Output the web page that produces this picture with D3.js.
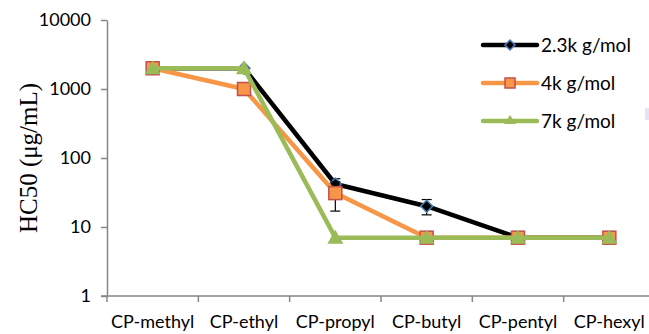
<!DOCTYPE html>
<html>
<head>
<meta charset="utf-8">
<script src="https://cdn.jsdelivr.net/npm/d3@7"></script>
<style>
  body { margin: 0; background: #fff; }
</style>
</head>
<body>
<script>
// chart data
const categories = ["CP-methyl", "CP-ethyl", "CP-propyl", "CP-butyl", "CP-pentyl", "CP-hexyl"];
const seriesNames = ["2.3k g/mol", "4k g/mol", "7k g/mol"];
const values23k = [2000, 2000, 42, 20, 7, 7];
const values4k = [2000, 1000, 31, 7, 7, 7];
const values7k = [2000, 2000, 7, 7, 7, 7];
const err23k = [0, 0, 8, 5, 0, 0];
const err4k = [0, 0, 14, 0, 0, 0];
const err7k = [0, 0, 0, 0, 0, 0];
const yTicks = [1, 10, 100, 1000, 10000];

const w = 649, h = 334;
const margin = {top: 20, right: -6, bottom: 38, left: 107};

const svg = d3.select("body").append("svg")
    .attr("width", w)
    .attr("height", h);

const xScale = d3.scaleBand()
    .domain(categories)
    .range([margin.left, w - margin.right]);

const yScale = d3.scaleLog()
    .domain([1, 10000])
    .range([h - margin.bottom, margin.top]);

const axisColor = "#868686";
const labelFont = "Lato, 'Open Sans', sans-serif";

// y axis
const yAxis = svg.append("g")
    .attr("transform", `translate(${margin.left},0)`)
    .call(d3.axisLeft(yScale).tickValues(yTicks).tickFormat(d3.format("d")).tickSize(6).tickSizeOuter(0));
yAxis.select(".domain").attr("stroke", axisColor).attr("stroke-width", 1.5);
yAxis.selectAll(".tick line").attr("stroke", axisColor).attr("stroke-width", 1.5);
yAxis.selectAll(".tick text")
    .attr("x", -16)
    .attr("font-family", labelFont)
    .attr("font-size", 18)
    .attr("fill", "#000");

// x axis
const xAxis = svg.append("g")
    .attr("transform", `translate(0,${h - margin.bottom})`)
    .call(d3.axisBottom(xScale).tickSize(0).tickSizeOuter(0));
xAxis.select(".domain").attr("stroke", axisColor).attr("stroke-width", 1.5)
    .attr("d", `M${margin.left - 6},0H${w}`);
xAxis.selectAll(".tick text")
    .attr("y", 19)
    .attr("font-family", labelFont)
    .attr("font-size", 18)
    .attr("fill", "#000");
xAxis.selectAll(".sep")
    .data(categories)
    .enter().append("line")
    .attr("x1", d => xScale(d))
    .attr("x2", d => xScale(d))
    .attr("y1", 0)
    .attr("y2", 6)
    .attr("stroke", axisColor)
    .attr("stroke-width", 1.5);

// y axis title
svg.append("text")
    .attr("transform", `translate(37,${(margin.top + h - margin.bottom) / 2}) rotate(-90)`)
    .attr("text-anchor", "middle")
    .attr("font-family", "'Liberation Serif', 'Times New Roman', serif")
    .attr("font-size", 25)
    .text("HC50 (\u03bcg/mL)");

// series
const series = [
  {name: seriesNames[0], values: values23k, err: err23k, color: "#000000", shape: "diamond"},
  {name: seriesNames[1], values: values4k, err: err4k, color: "#f79646", shape: "square"},
  {name: seriesNames[2], values: values7k, err: err7k, color: "#9bbb59", shape: "triangle"}
];

const line = d3.line()
    .x((d, i) => xScale(categories[i]) + xScale.bandwidth() / 2)
    .y(d => yScale(d));

function drawMarker(g, shape, x, y) {
  if (shape === "diamond") {
    g.append("path")
        .attr("d", `M${x},${y - 6}L${x + 6},${y}L${x},${y + 6}L${x - 6},${y}Z`)
        .attr("fill", "#000")
        .attr("stroke", "#4a7ebb")
        .attr("stroke-width", 1.5);
  } else if (shape === "square") {
    g.append("rect")
        .attr("x", x - 6.5).attr("y", y - 6.5)
        .attr("width", 13).attr("height", 13)
        .attr("fill", "#f79646")
        .attr("stroke", "#c0504d")
        .attr("stroke-width", 1.5);
  } else {
    g.append("path")
        .attr("d", `M${x},${y - 8}L${x + 8},${y + 6}L${x - 8},${y + 6}Z`)
        .attr("fill", "#9bbb59");
  }
}

series.forEach(s => {
  const g = svg.append("g");
  // error bars
  s.values.forEach((v, i) => {
    if (!s.err[i]) return;
    const cx = xScale(categories[i]) + xScale.bandwidth() / 2;
    const y1 = yScale(v + s.err[i]), y2 = yScale(v - s.err[i]);
    g.append("line").attr("x1", cx).attr("x2", cx).attr("y1", y1).attr("y2", y2)
        .attr("stroke", "#000").attr("stroke-width", 1.2);
    [y1, y2].forEach(yy => g.append("line")
        .attr("x1", cx - 5).attr("x2", cx + 5).attr("y1", yy).attr("y2", yy)
        .attr("stroke", "#000").attr("stroke-width", 1.2));
  });
  g.append("path")
      .datum(s.values)
      .attr("d", line)
      .attr("fill", "none")
      .attr("stroke", s.color)
      .attr("stroke-width", 4.5)
      .attr("stroke-linejoin", "round");
  s.values.forEach((v, i) => {
    drawMarker(g, s.shape, xScale(categories[i]) + xScale.bandwidth() / 2, yScale(v));
  });
});

// legend
const legend = svg.append("g");
series.forEach((s, i) => {
  const ly = 45 + i * 38;
  legend.append("line")
      .attr("x1", 483).attr("x2", 537).attr("y1", ly).attr("y2", ly)
      .attr("stroke", s.color).attr("stroke-width", 4.5).attr("stroke-linecap", "round");
  if (s.shape === "diamond") {
    legend.append("path")
        .attr("d", `M510,${ly - 5}L515,${ly}L510,${ly + 5}L505,${ly}Z`)
        .attr("fill", "#000").attr("stroke", "#4a7ebb").attr("stroke-width", 1.5);
  } else if (s.shape === "square") {
    legend.append("rect")
        .attr("x", 505).attr("y", ly - 5).attr("width", 10).attr("height", 10)
        .attr("fill", "#f79646").attr("stroke", "#c0504d").attr("stroke-width", 1.5);
  } else {
    legend.append("path")
        .attr("d", `M510,${ly - 6}L516,${ly + 3}L504,${ly + 3}Z`)
        .attr("fill", "#9bbb59");
  }
  legend.append("text")
      .attr("x", 541).attr("y", ly)
      .attr("dy", "0.35em")
      .attr("font-family", labelFont)
      .attr("font-size", 19)
      .text(s.name);
});

// small artifact box at the right edge
svg.append("rect")
    .attr("x", 645).attr("y", 108).attr("width", 4).attr("height", 12)
    .attr("fill", "#e4e4f2");
</script>
</body>
</html>
